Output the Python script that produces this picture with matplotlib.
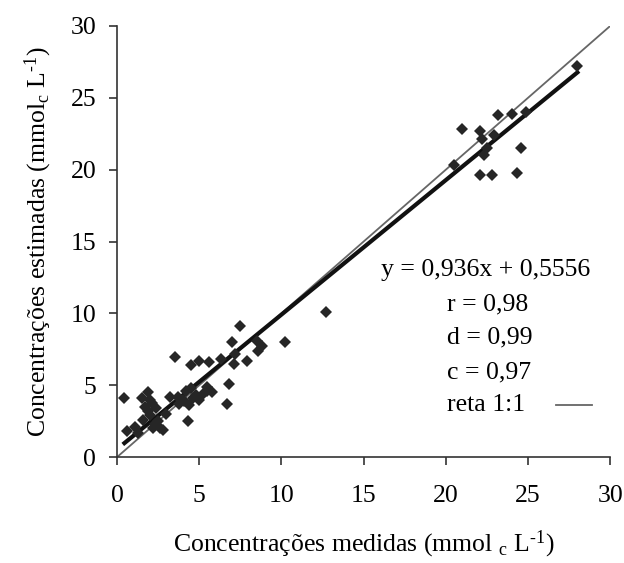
import numpy as np
import matplotlib
matplotlib.use("Agg")
import matplotlib.pyplot as plt

plt.rcParams['font.family'] = ['Liberation Serif', 'DejaVu Serif']
plt.rcParams['mathtext.fontset'] = 'custom'
plt.rcParams['mathtext.rm'] = 'Liberation Serif'
plt.rcParams['mathtext.it'] = 'Liberation Serif:italic'

# measured vs estimated concentrations (mmol_c L-1)
medidas = [28.0, 23.2, 24.0, 24.9, 21.0, 22.1, 22.9, 22.2, 22.5, 22.3, 24.6, 20.5, 22.1, 22.8, 24.3,
           12.7, 7.5, 7.0, 8.5, 8.8, 10.2, 8.6, 7.2, 7.1, 7.9, 4.5, 5.0, 5.6, 6.3, 6.8, 5.5, 5.8, 6.7, 3.5,
           0.45, 0.6, 1.1, 1.5, 1.9, 1.7, 2.0, 2.3, 2.6, 2.8, 3.0, 3.2, 3.7, 4.2, 4.5, 4.8, 4.3, 5.0, 5.5,
           1.9, 2.1, 2.4, 1.6, 2.2, 3.8, 4.0, 4.6, 5.2, 1.3, 2.5, 2.0, 4.1, 4.4]
estimadas = [27.2, 23.8, 23.9, 24.0, 22.8, 22.7, 22.4, 22.1, 21.5, 21.0, 21.5, 20.3, 19.6, 19.6, 19.8,
             10.1, 9.1, 8.0, 8.1, 7.7, 8.0, 7.4, 7.2, 6.5, 6.7, 6.4, 6.7, 6.6, 6.8, 5.1, 4.9, 4.5, 3.7, 7.0,
             4.1, 1.8, 2.1, 4.1, 4.5, 3.5, 2.9, 2.3, 2.0, 1.9, 3.0, 4.2, 4.2, 4.6, 4.8, 4.3, 2.5, 4.0, 4.6,
             3.2, 3.8, 3.4, 2.6, 2.0, 3.7, 4.0, 4.1, 4.4, 1.7, 2.5, 4.0, 3.9, 3.6]

slope, intercept = 0.936, 0.5556
stats = ["y = 0,936x + 0,5556", "r = 0,98", "d = 0,99", "c = 0,97", "reta 1:1"]

fig = plt.figure(figsize=(6.24, 5.63), dpi=100)
ax = fig.add_axes([0.1875, 0.188, 0.7905, 0.766])

ax.plot([0, 30], [0, 30], color='#666666', lw=1.3, zorder=2)
xr = np.array([min(medidas), max(medidas)])
ax.plot(xr, slope * xr + intercept, color='#111111', lw=3, zorder=3)
ax.plot(medidas, estimadas, 'D', color='#262626', markersize=6.3, markeredgewidth=0, zorder=4)

ax.set_xlim(0, 30)
ax.set_ylim(0, 30)
ax.set_xticks(range(0, 31, 5))
ax.set_yticks(range(0, 31, 5))
for s in ['top', 'right']:
    ax.spines[s].set_visible(False)
for s in ['left', 'bottom']:
    ax.spines[s].set_linewidth(1.2)
    ax.spines[s].set_color('#333333')
ax.tick_params(direction='out', length=6, width=1.2, color='#333333', labelsize=18.5, pad=9)
ax.tick_params(axis='x', pad=14)

ax.set_xlabel(r"Concentrações medidas (mmol $_\mathregular{c}$ L$^\text{-1}$)", fontsize=18.5, labelpad=16)
ax.set_ylabel(r"Concentrações estimadas (mmol$_\mathregular{c}$ L$^\text{-1}$)", fontsize=18.5, labelpad=12)

ax.text(16.05, 13.0, stats[0], fontsize=18.5, va='center')
for t, yy in zip(stats[1:], [10.6, 8.3, 5.9, 3.6]):
    ax.text(20.1, yy, t, fontsize=18.5, va='center')
ax.plot([26.7, 28.9], [3.6, 3.6], color='#666666', lw=1.3)

fig.savefig("out.png", dpi=100)
